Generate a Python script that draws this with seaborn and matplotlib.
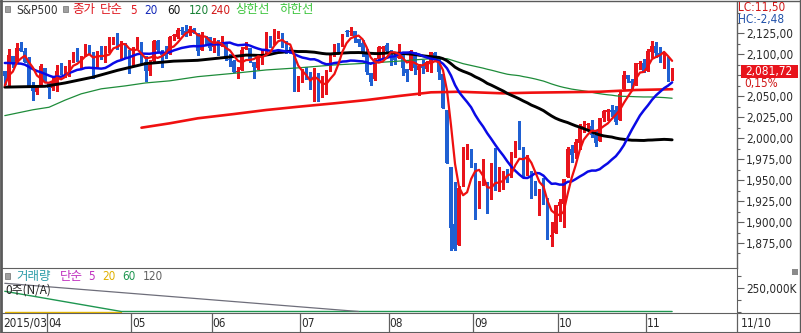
import numpy as np
import pandas as pd
import matplotlib
matplotlib.use("Agg")
import matplotlib.pyplot as plt
import seaborn as sns
from matplotlib.patches import Rectangle
from matplotlib.lines import Line2D
from matplotlib.transforms import blended_transform_factory

sns.set_style("white")
plt.rcParams["font.family"] = ["DejaVu Sans", "Noto Sans CJK KR"]
plt.rcParams["font.stretch"] = "condensed"

# ---------------- data ----------------
days_mar = [17, 18, 19, 20, 23, 24, 25, 26, 27, 30, 31]
days_apr = [1, 2, 6, 7, 8, 9, 10, 13, 14, 15, 16, 17, 20, 21, 22, 23, 24, 27, 28, 29, 30]
days_may = [1, 4, 5, 6, 7, 8, 11, 12, 13, 14, 15, 18, 19, 20, 21, 22, 26, 27, 28, 29]
days_jun = [1, 2, 3, 4, 5, 8, 9, 10, 11, 12, 15, 16, 17, 18, 19, 22, 23, 24, 25, 26, 29, 30]
days_jul = [1, 2, 6, 7, 8, 9, 10, 13, 14, 15, 16, 17, 20, 21, 22, 23, 24, 27, 28, 29, 30, 31]
days_aug = [3, 4, 5, 6, 7, 10, 11, 12, 13, 14, 17, 18, 19, 20, 21, 24, 25, 26, 27, 28, 31]
days_sep = [1, 2, 3, 4, 8, 9, 10, 11, 14, 15, 16, 17, 18, 21, 22, 23, 24, 25, 28, 29, 30]
days_oct = [1, 2, 5, 6, 7, 8, 9, 12, 13, 14, 15, 16, 19, 20, 21, 22, 23, 26, 27, 28, 29, 30]
days_nov = [2, 3, 4, 5, 6, 9, 10]
month_days = [(3, days_mar), (4, days_apr), (5, days_may), (6, days_jun), (7, days_jul),
              (8, days_aug), (9, days_sep), (10, days_oct), (11, days_nov)]
month_labels = ["2015/03", "04", "05", "06", "07", "08", "09", "10", "11"]
last_date_label = "11/10"

# closes before the visible window (for the moving averages)
hist_closes = [2100.34, 2099.68, 2097.45, 2110.30, 2109.66, 2115.48, 2113.86, 2110.74, 2104.50, 2117.39,
               2107.78, 2098.53, 2101.04, 2071.26, 2079.43, 2044.16, 2040.24, 2065.95, 2053.40, 2081.19]

opens = [
    2080.59, 2072.84, 2098.69, 2090.32, 2107.99, 2103.94, 2093.10, 2059.94, 2055.78, 2064.11, 2084.05,
    2067.63, 2060.03, 2064.87, 2080.79, 2076.94, 2081.29, 2091.51, 2102.03, 2092.28, 2097.82, 2105.96,
    2102.58, 2084.11, 2102.82, 2098.27, 2107.21, 2112.80, 2119.29, 2108.35, 2112.49, 2105.52,
    2087.38, 2110.23, 2112.63, 2091.26, 2079.96, 2092.13, 2115.56, 2102.87, 2099.62, 2100.43, 2122.07,
    2121.30, 2129.45, 2127.79, 2125.55, 2130.36, 2125.34, 2105.13, 2122.27, 2120.66,
    2108.64, 2110.41, 2110.64, 2112.35, 2095.09, 2092.34, 2079.07, 2081.12, 2106.24, 2107.43, 2091.34,
    2084.26, 2097.40, 2101.58, 2121.06, 2112.50, 2123.16, 2123.65, 2109.96, 2102.62, 2098.63, 2061.19,
    2067.00, 2078.03, 2073.95, 2069.52, 2077.66, 2049.73, 2052.74, 2080.03, 2099.72, 2109.21, 2110.55,
    2126.80, 2126.85, 2127.55, 2118.21, 2114.16, 2102.24, 2078.19, 2070.75, 2094.70, 2106.78, 2111.60,
    2104.49, 2097.68, 2095.27, 2100.75, 2082.61, 2080.98, 2102.66, 2081.10, 2086.19, 2083.15, 2089.70,
    2101.99, 2095.69, 2076.61, 2034.08, 1965.15, 1898.08, 1872.75, 1942.77, 1986.06, 1986.73,
    1970.09, 1916.52, 1950.79, 1947.76, 1927.30, 1971.45, 1941.59, 1951.45, 1963.06, 1955.10, 1978.02,
    1995.33, 1989.66, 1960.84, 1961.39, 1943.24, 1932.24, 1935.93, 1929.18, 1881.90, 1887.14,
    1919.65, 1921.77, 1954.33, 1986.63, 1982.34, 1994.01, 2013.73, 2015.65, 2015.00, 2003.66, 1996.47,
    2024.37, 2031.73, 2033.13, 2033.47, 2021.88, 2058.19, 2075.08, 2068.75, 2066.48, 2088.35, 2090.00,
    2080.76, 2102.63, 2110.60, 2101.68, 2098.60, 2096.56, 2077.19]
highs = [
    2080.59, 2106.85, 2098.69, 2113.92, 2114.86, 2107.63, 2097.43, 2067.15, 2062.83, 2088.97, 2084.05,
    2067.63, 2072.17, 2086.99, 2089.81, 2086.69, 2093.31, 2102.61, 2107.65, 2098.62, 2111.91, 2111.30,
    2102.58, 2103.94, 2109.64, 2109.98, 2120.49, 2120.92, 2125.92, 2116.04, 2113.65, 2105.52,
    2108.41, 2120.95, 2115.24, 2098.42, 2092.90, 2117.66, 2117.69, 2105.06, 2110.19, 2121.45, 2123.89,
    2131.78, 2133.02, 2134.72, 2134.28, 2132.15, 2125.34, 2126.22, 2122.27, 2120.66,
    2119.15, 2117.59, 2121.92, 2112.89, 2100.99, 2093.01, 2085.62, 2108.50, 2115.02, 2107.43, 2091.34,
    2097.40, 2106.79, 2126.65, 2121.64, 2129.87, 2128.03, 2125.10, 2116.04, 2108.92, 2098.63, 2074.28,
    2082.78, 2085.06, 2078.61, 2083.74, 2077.66, 2074.28, 2081.31, 2099.88, 2111.98, 2114.14, 2124.42,
    2128.91, 2132.82, 2128.49, 2118.51, 2116.87, 2106.01, 2078.19, 2095.60, 2110.60, 2110.48, 2114.24,
    2105.70, 2102.51, 2112.66, 2103.32, 2082.61, 2105.35, 2102.66, 2089.06, 2092.93, 2092.45, 2102.87,
    2103.47, 2096.17, 2076.61, 2034.08, 1965.15, 1948.04, 1943.09, 1989.60, 1993.48, 1986.73,
    1970.09, 1948.91, 1975.01, 1947.76, 1970.42, 1988.63, 1965.29, 1961.05, 1963.06, 1983.19, 1997.26,
    2020.86, 1989.66, 1979.64, 1961.39, 1949.52, 1938.88, 1952.89, 1929.18, 1899.48, 1920.53,
    1927.21, 1951.36, 1989.17, 1991.62, 1999.31, 2016.50, 2020.13, 2018.66, 2022.34, 2009.56, 2024.15,
    2033.54, 2034.45, 2039.12, 2037.97, 2055.20, 2079.74, 2075.14, 2070.37, 2090.35, 2092.52, 2094.32,
    2106.20, 2116.48, 2114.59, 2108.78, 2101.91, 2096.56, 2083.67]
lows = [
    2065.08, 2061.23, 2085.56, 2090.32, 2104.42, 2091.50, 2061.05, 2045.50, 2052.96, 2064.11, 2067.04,
    2048.38, 2057.32, 2056.52, 2076.10, 2073.30, 2074.29, 2091.51, 2092.33, 2083.24, 2097.82, 2100.02,
    2072.37, 2084.11, 2094.38, 2091.05, 2103.19, 2112.80, 2107.04, 2094.89, 2097.41, 2077.59,
    2087.38, 2108.29, 2088.46, 2067.93, 2074.99, 2092.13, 2104.58, 2085.57, 2096.04, 2100.43, 2116.81,
    2120.01, 2124.50, 2122.59, 2122.95, 2126.06, 2099.18, 2105.13, 2112.86, 2104.89,
    2102.54, 2099.14, 2109.61, 2093.23, 2085.67, 2079.11, 2072.14, 2081.12, 2106.24, 2091.33, 2072.49,
    2082.10, 2088.86, 2101.58, 2109.45, 2112.50, 2119.89, 2108.58, 2101.78, 2101.21, 2056.64, 2056.32,
    2067.00, 2071.02, 2058.40, 2044.02, 2044.66, 2049.73, 2052.74, 2080.03, 2098.18, 2102.49, 2110.55,
    2122.01, 2123.66, 2115.40, 2110.00, 2098.63, 2077.09, 2063.52, 2069.09, 2094.08, 2094.97, 2102.07,
    2087.31, 2088.60, 2095.27, 2075.53, 2067.91, 2080.98, 2076.49, 2052.09, 2078.26, 2080.61, 2079.30,
    2094.14, 2070.53, 2035.73, 1970.89, 1867.01, 1867.08, 1872.75, 1942.77, 1975.19, 1965.98,
    1903.07, 1916.52, 1944.72, 1911.21, 1927.30, 1937.88, 1937.19, 1939.19, 1948.27, 1954.30, 1977.93,
    1986.73, 1953.45, 1955.80, 1929.22, 1932.57, 1908.92, 1921.50, 1879.21, 1871.91, 1887.14,
    1900.70, 1893.70, 1954.33, 1971.99, 1976.44, 1987.53, 2007.61, 2010.55, 2001.78, 1990.73, 1996.47,
    2020.46, 2022.31, 2026.61, 2017.22, 2021.88, 2058.19, 2066.53, 2058.84, 2063.11, 2082.63, 2079.34,
    2080.76, 2097.51, 2096.98, 2090.41, 2083.74, 2068.24, 2069.91]
closes = [
    2074.28, 2099.50, 2089.27, 2108.10, 2104.42, 2091.50, 2061.05, 2056.15, 2061.02, 2086.24, 2067.89,
    2059.69, 2066.96, 2080.62, 2076.33, 2081.90, 2091.18, 2102.06, 2092.43, 2095.84, 2106.63, 2104.99,
    2081.18, 2100.40, 2097.29, 2107.96, 2112.93, 2117.69, 2108.92, 2114.76, 2106.85, 2085.51,
    2108.29, 2114.49, 2089.46, 2080.15, 2088.00, 2116.10, 2105.33, 2099.12, 2098.48, 2121.10, 2122.73,
    2129.20, 2127.83, 2125.85, 2130.82, 2126.06, 2104.20, 2123.48, 2120.79, 2107.39,
    2111.73, 2109.60, 2114.07, 2095.84, 2092.83, 2079.28, 2080.15, 2105.20, 2108.86, 2094.11, 2084.43,
    2096.29, 2100.44, 2121.24, 2109.99, 2122.85, 2124.20, 2108.58, 2102.31, 2101.49, 2057.64, 2063.11,
    2077.42, 2076.78, 2068.76, 2081.34, 2046.68, 2051.31, 2076.62, 2099.60, 2108.95, 2107.40, 2124.29,
    2126.64, 2128.28, 2119.21, 2114.15, 2102.15, 2079.65, 2067.64, 2093.25, 2108.57, 2108.63, 2103.84,
    2098.04, 2093.32, 2099.84, 2083.56, 2077.57, 2104.18, 2084.07, 2086.05, 2083.39, 2091.54, 2102.44,
    2096.92, 2079.61, 2035.73, 1970.89, 1893.21, 1867.61, 1940.51, 1987.66, 1988.87, 1972.18,
    1913.85, 1948.86, 1951.13, 1921.22, 1969.41, 1942.04, 1952.29, 1961.05, 1953.03, 1978.09, 1995.31,
    1990.20, 1958.03, 1966.97, 1942.74, 1938.76, 1932.24, 1931.34, 1881.77, 1884.09, 1920.03,
    1923.82, 1951.36, 1987.05, 1979.92, 1995.83, 2013.43, 2014.89, 2017.46, 2003.69, 1994.24, 2023.86,
    2033.11, 2033.66, 2030.77, 2018.94, 2052.51, 2075.15, 2071.18, 2065.89, 2090.35, 2089.41, 2079.36,
    2104.05, 2109.79, 2102.31, 2099.93, 2099.20, 2078.58, 2081.72]

ma60_read_idx = [0, 10, 15, 22, 28, 35, 42, 48, 55]
ma60_read_val = [2061, 2062, 2066, 2073, 2081, 2089, 2092, 2093, 2096.5]
ma120_read_idx = [0, 7, 11, 15, 19, 24, 30, 35, 41, 48, 57, 65, 73, 82, 90, 98, 106, 110, 114]
ma120_read_val = [2027, 2034, 2037, 2045.5, 2053, 2059, 2062.5, 2066, 2068.5, 2073.5, 2077.5, 2081.5,
                  2084, 2087.5, 2089.5, 2092, 2095, 2095, 2089]
ma240_idx = [34, 41, 48, 57, 65, 73, 82, 90, 98, 106, 113, 124, 131, 148, 157, 166]
ma240_val = [2012.6, 2017.8, 2023.8, 2028.9, 2033.7, 2037.6, 2041.7, 2045.6, 2050.4, 2054.8, 2055.5,
             2053.6, 2054.4, 2055.5, 2057.6, 2058.5]

# volume moving averages (volume itself N/A)
vol20_idx, vol20_val = [0, 29], [0, 0]
vol60_idx, vol60_val = [0, 29, 166], [215000, 0, 0]
vol120_idx, vol120_val = [0, 88], [300000, 0]

price_ticks = [1875, 1900, 1925, 1950, 1975, 2000, 2025, 2050, 2075, 2100, 2125]
lc_text, hc_text, pct_text = "LC:11,50", "HC:-2,48", "0,15%"

# ---------------- derived ----------------
n = len(closes)
xi = np.arange(n)
o, h, l, c = map(np.asarray, (opens, highs, lows, closes))
allc = pd.Series(hist_closes + closes)
ma5 = allc.rolling(5).mean().values[len(hist_closes):]
ma20 = allc.rolling(20).mean().values[len(hist_closes):]
cs = pd.Series(closes)
ma60_calc = cs.rolling(60).mean()
ma120_calc = cs.rolling(120).mean()
ma60_df = pd.concat([pd.DataFrame({"i": ma60_read_idx, "v": ma60_read_val}),
                     pd.DataFrame({"i": xi[59:], "v": ma60_calc.values[59:]})])
ma120_df = pd.concat([pd.DataFrame({"i": ma120_read_idx, "v": ma120_read_val}),
                      pd.DataFrame({"i": xi[119:], "v": ma120_calc.values[119:]})])
ma_df = pd.DataFrame({"i": xi, "ma5": ma5, "ma20": ma20})

month_start = []
k = 0
for m, d in month_days:
    month_start.append(k)
    k += len(d)

# ---------------- layout ----------------
W, H = 801, 333
fig = plt.figure(figsize=(W / 100, H / 100), dpi=100)
fig.patch.set_facecolor("white")


def px_axes(x0, y0, x1, y1):
    return fig.add_axes([x0 / W, 1 - y1 / H, (x1 - x0) / W, (y1 - y0) / H])


def px_to_i(px):
    return (px - 4.8) / 4.02


XMIN, XMAX = px_to_i(2), px_to_i(737)
SC = 0.838  # px per point
YMAX = 2125 + (33.5 - 2) / SC
YMIN = 2125 - (268 - 33.5) / SC

RED = "#E8141C"
CBLUE = "#1F60D2"
AXC = "#606060"
TXT = "#2a2a2a"

ax = px_axes(2, 2, 737, 268)
axv = px_axes(2, 268, 737, 313)
axd = px_axes(2, 313, 800, 332)

# candles
cols = np.where(c >= o, RED, CBLUE)
ax.vlines(xi, l, h, colors=cols, lw=1.0, zorder=2, antialiased=False)
ax.bar(xi, np.maximum(np.abs(c - o), 1.0), bottom=np.minimum(o, c), width=0.78,
       color=cols, linewidth=0, zorder=2.2, antialiased=False)

# moving averages
sns.lineplot(data=ma120_df, x="i", y="v", ax=ax, color="#1E8C3A", lw=0.9, zorder=3)
sns.lineplot(x=ma240_idx, y=ma240_val, ax=ax, color="#F01010", lw=1.9, zorder=3.1)
sns.lineplot(data=ma60_df, x="i", y="v", ax=ax, color="#000000", lw=2.1, zorder=3.2)
sns.lineplot(data=ma_df, x="i", y="ma20", ax=ax, color="#0A0AE6", lw=1.8, zorder=3.3)
sns.lineplot(data=ma_df, x="i", y="ma5", ax=ax, color="#EE1010", lw=1.6, zorder=3.4)

ax.set_xlim(XMIN, XMAX)
ax.set_ylim(YMIN, YMAX)
ax.set_xlabel("")
ax.set_ylabel("")
ax.set_xticks([])
for s in ["top", "left", "bottom"]:
    ax.spines[s].set_visible(False)
ax.spines["right"].set_color(AXC)
ax.spines["right"].set_linewidth(1.0)
ax.yaxis.tick_right()
ax.set_yticks(price_ticks)
ax.set_yticklabels([("" if v == 2075 else f"{v:,.2f}".replace(".", ",")) for v in price_ticks])
ax.set_yticks([v + 12.5 for v in price_ticks[:-1]] + [1862.5, 2137.5, 2150], minor=True)
ax.tick_params(axis="y", which="major", length=5, width=0.8, color=AXC, pad=1.5,
               labelsize=8.5, labelcolor=TXT)
ax.tick_params(axis="y", which="minor", length=2.5, width=0.8, color=AXC)

# current price box
btr = blended_transform_factory(ax.transAxes, ax.transData)
aw = 735.0
ax.add_patch(Rectangle(((741 - 2) / aw, closes[-1] - 1.9 - 6.8 / SC), 57 / aw, 13.6 / SC,
                       transform=btr, facecolor="#E8141C", edgecolor="none", clip_on=False, zorder=5))
ax.text((745 - 2) / aw, closes[-1] - 1.9, f"{closes[-1]:,.2f}".replace(".", ","), transform=btr,
        color="white", fontsize=8.5, va="center", ha="left", zorder=6, clip_on=False)


# header texts
def ftext(x, y, s, color, size=8.5, family=None):
    kw = {}
    if family:
        kw["family"] = family
    fig.text(x / W, 1 - y / H, s, color=color, fontsize=size, va="center", ha="left", **kw)


def square(x, y):
    fig.patches.append(Rectangle((x / W, 1 - (y + 3) / H), 4.5 / W, 6 / H, transform=fig.transFigure,
                                 facecolor="#A0A0A0", edgecolor="#707070", lw=0.5))


KR = ["Noto Sans CJK KR", "DejaVu Sans"]
KS = 9.0
square(5, 9)
ftext(16, 10, "S&P500", "#333333")
square(63, 9)
ftext(72, 9.5, "종가", "#E01820", size=KS, family=KR)
ftext(100, 9.5, "단순", "#E01820", size=KS, family=KR)
ftext(130, 10, "5", "#E01820")
ftext(144, 10, "20", "#1428B8")
ftext(167, 10, "60", "#111111")
ftext(189, 10, "120", "#168033")
ftext(210, 10, "240", "#D21818")
ftext(235, 9.5, "상한선", "#3CC43C", size=KS, family=KR)
ftext(279, 9.5, "하한선", "#3CC43C", size=KS, family=KR)

ftext(738, 7, lc_text, "#D01818")
ftext(738, 19, hc_text, "#2050A8")
ftext(744, 83, pct_text, "#D01818")

# volume panel
VS = 250000 / 23.5
axv.set_xlim(XMIN, XMAX)
axv.set_ylim(-1.5 * VS, (311.5 - 268) * VS)
sns.lineplot(x=vol20_idx, y=vol20_val, ax=axv, color="#E8B800", lw=1.0, zorder=2)
sns.lineplot(x=vol60_idx, y=vol60_val, ax=axv, color="#1E9650", lw=1.0, zorder=3)
sns.lineplot(x=vol120_idx, y=vol120_val, ax=axv, color="#6E6E7A", lw=0.9, zorder=4)
axv.set_xlabel("")
axv.set_ylabel("")
axv.set_xticks([])
for s in ["left", "bottom"]:
    axv.spines[s].set_visible(False)
axv.spines["top"].set_color(AXC)
axv.spines["right"].set_color(AXC)
axv.yaxis.tick_right()
axv.set_yticks([250000])
axv.set_yticklabels(["250,000K"])
axv.set_yticks([0, 125000, 375000], minor=True)
axv.tick_params(axis="y", which="major", length=5, width=0.8, color=AXC, pad=1.5,
                labelsize=8.5, labelcolor=TXT)
axv.tick_params(axis="y", which="minor", length=3, width=0.8, color=AXC)

square(5, 276)
ftext(16, 276.5, "거래량", "#2C9CA8", size=KS, family=KR)
ftext(60, 276.5, "단순", "#C030C0", size=KS, family=KR)
ftext(88, 277, "5", "#C030C0")
ftext(102, 277, "20", "#E0B000")
ftext(122, 277, "60", "#1E9650")
ftext(143, 277, "120", "#606060")
ftext(5, 290.5, "0주(N/A)", "#222222", family=KR)
fig.patches.append(Rectangle((792 / W, 1 - 275 / H), 6 / W, 6 / H, transform=fig.transFigure,
                             facecolor="#8A8A8A", edgecolor="none"))

# date axis
axd.set_xlim(XMIN, px_to_i(800))
axd.set_ylim(0, 1)
axd.set_xticks([])
axd.set_yticks([])
for s in ["left", "right"]:
    axd.spines[s].set_visible(False)
for s in ["top", "bottom"]:
    axd.spines[s].set_color(AXC)
for ms, lab in zip(month_start, month_labels):
    if ms > 0:
        axd.axvline(ms - 0.5, color=AXC, lw=0.9)
    axd.text(ms - 0.3 if ms > 0 else XMIN + 0.2, 0.47, lab, color=TXT, fontsize=8.5,
             va="center", ha="left")
axd.axvline(px_to_i(737), color=AXC, lw=0.9)
axd.text(px_to_i(741), 0.47, last_date_label, color=TXT, fontsize=8.5, va="center", ha="left")

# outer frame
for xs, ys, lw in [([1 / W, 1 / W], [0, 1], 2.0), ([0, 1], [1 - 0.5 / H, 1 - 0.5 / H], 1.0),
                   ([1 - 1 / W, 1 - 1 / W], [0, 1], 1.0), ([0, 1], [0.5 / H, 0.5 / H], 1.0)]:
    fig.add_artist(Line2D(xs, ys, transform=fig.transFigure, color="#5a5a5a", lw=lw))

fig.savefig("out.png", dpi=100, facecolor="white")
